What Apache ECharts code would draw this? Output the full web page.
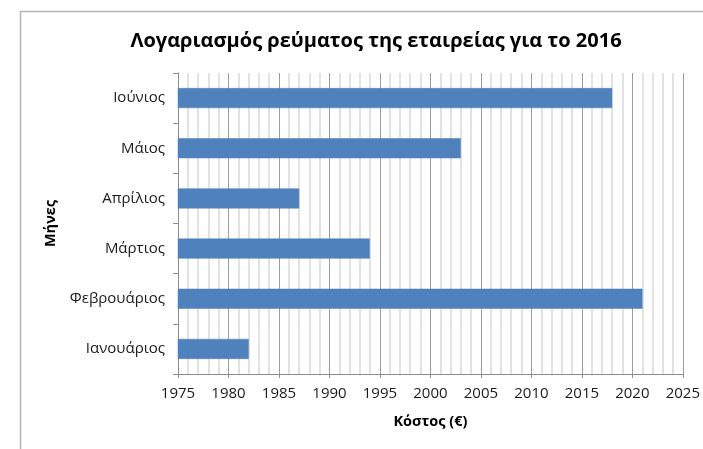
<!DOCTYPE html>
<html>
<head>
<meta charset="utf-8">
<script src="https://cdn.jsdelivr.net/npm/echarts@6/dist/echarts.min.js"></script>
<style>
html,body{margin:0;padding:0;background:#fff;}
#chart{width:703px;height:449px;}
</style>
</head>
<body>
<div id="chart"></div>
<script>
// Monthly electricity bill, 2016
const months = ['Ιανουάριος', 'Φεβρουάριος', 'Μάρτιος', 'Απρίλιος', 'Μάιος', 'Ιούνιος'];
const cost = [1982, 2021, 1994, 1987, 2003, 2018];
const xMin = 1975;
const xMax = 2025;
const xStep = 5;

const FONT = '"Open Sans", "Noto Sans", sans-serif';
const chart = echarts.init(document.getElementById('chart'), null, {renderer: 'canvas'});

chart.setOption({
  backgroundColor: '#ffffff',
  animation: false,
  title: {
    text: 'Λογαριασμός ρεύματος της εταιρείας για το 2016',
    left: 371,
    textAlign: 'center',
    top: 26,
    textStyle: {fontFamily: FONT, fontSize: 20, fontWeight: 'bold', color: '#000'}
  },
  graphic: [{
    type: 'rect',
    shape: {x: 20.5, y: 11.5, width: 720, height: 460},
    style: {fill: 'none', stroke: '#b4b4b4', lineWidth: 1.5},
    silent: true
  }],
  grid: {left: 178, right: 16, top: 73, bottom: 75},
  xAxis: {
    type: 'value',
    min: xMin,
    max: xMax,
    interval: xStep,
    name: 'Κόστος (€)',
    nameLocation: 'middle',
    nameGap: 40,
    nameTextStyle: {fontFamily: FONT, fontSize: 14.5, fontWeight: 'bold', color: '#000'},
    axisLine: {show: true, lineStyle: {color: '#8c8c8c', width: 1}},
    axisTick: {show: true, length: 4, lineStyle: {color: '#8c8c8c'}},
    axisLabel: {fontFamily: FONT, fontSize: 15, color: '#1a1a1a', margin: 12,
      formatter: function (v) { return String(v); }},
    splitLine: {show: true, lineStyle: {color: '#9c9c9c', width: 1}},
    minorTick: {show: false, splitNumber: 5},
    minorSplitLine: {show: true, lineStyle: {color: '#d9d9d9', width: 1.5}}
  },
  yAxis: {
    type: 'category',
    data: months,
    name: 'Μήνες',
    nameLocation: 'middle',
    nameGap: 112,
    nameRotate: 90,
    nameTextStyle: {fontFamily: FONT, fontSize: 14.5, fontWeight: 'bold', color: '#000'},
    axisLine: {show: true, lineStyle: {color: '#8c8c8c', width: 1}},
    axisTick: {show: true, length: 5, interval: 0, alignWithLabel: false, lineStyle: {color: '#8c8c8c'}},
    axisLabel: {fontFamily: FONT, fontSize: 15, color: '#1a1a1a', margin: 13},
    splitLine: {show: false}
  },
  series: [{
    type: 'bar',
    data: cost,
    barWidth: 20,
    itemStyle: {color: '#4f81bd', borderColor: '#4a7ebb', borderWidth: 0.5}
  }]
});
</script>
</body>
</html>
